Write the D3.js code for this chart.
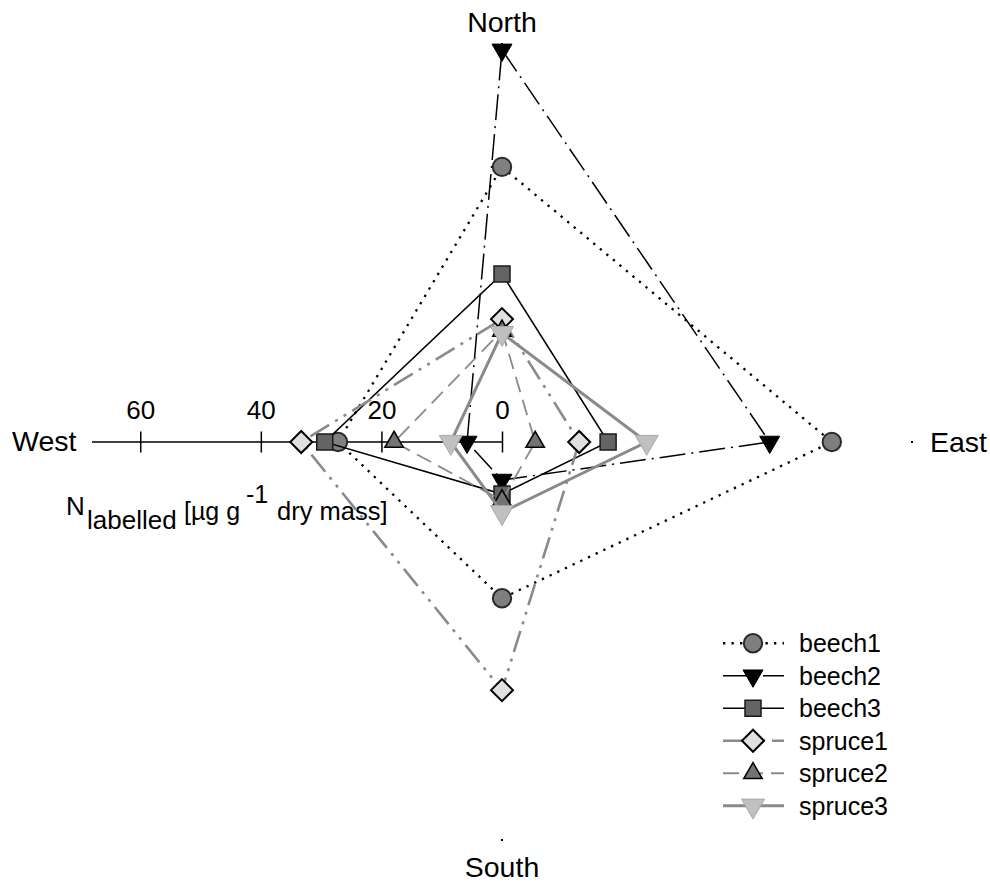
<!DOCTYPE html>
<html>
<head>
<meta charset="utf-8">
<script src="https://cdn.jsdelivr.net/npm/d3@7/dist/d3.min.js"></script>
<style>
  html, body { margin: 0; padding: 0; background: #fff; }
  svg { display: block; font-family: "Liberation Sans", Arial, sans-serif; }
</style>
</head>
<body>
<svg id="chart" width="990" height="885"></svg>
<script>
// Compass directions, clockwise from the top
const directions = ["North", "East", "South", "West"];
const dirVectors = [[0, -1], [1, 0], [0, 1], [-1, 0]];

// Labelled N per direction (North, East, South, West), µg g-1 dry mass
const beech1  = [47.0, 54.7, 26.7, 27.2];
const beech2  = [67.0, 44.4,  6.5,  5.8];
const beech3  = [28.7, 17.6,  8.9, 29.4];
const spruce1 = [21.0, 12.8, 42.4, 33.3];
const spruce2 = [19.0,  5.5, 10.0, 17.9];
const spruce3 = [18.6, 24.0, 12.0,  8.5];

const seriesNames = ["beech1", "beech2", "beech3", "spruce1", "spruce2", "spruce3"];
const axisTicks = [60, 40, 20, 0];
const axisMax = 68;

const seriesData = [beech1, beech2, beech3, spruce1, spruce2, spruce3];

// Drawing styles for each series
const styles = {
  beech1:  { stroke: "#000", width: 2.3, dash: "2.3,6.2", symbol: "circle", size: 9.2, fill: "#7f7f7f", mstroke: "#2a2a2a", mwidth: 2 },
  beech2:  { stroke: "#000", width: 1.5, dash: "26,6,2,6", symbol: "triDown", size: 20, fill: "#000", mstroke: "#000", mwidth: 1 },
  beech3:  { stroke: "#000", width: 1.5, dash: null, symbol: "square", size: 16, fill: "#646464", mstroke: "#1a1a1a", mwidth: 1.5 },
  spruce1: { stroke: "#8a8a8a", width: 2.6, dash: "22,7,3,7,3,7", symbol: "diamond", size: 22, fill: "#e0e0e0", mstroke: "#000", mwidth: 2 },
  spruce2: { stroke: "#8a8a8a", width: 1.8, dash: "16,8", symbol: "triUp", size: 18.5, fill: "#737373", mstroke: "#000", mwidth: 1.5 },
  spruce3: { stroke: "#8a8a8a", width: 3, dash: null, symbol: "triDown", size: 23, fill: "#c0c0c0", mstroke: "#a8a8a8", mwidth: 1 }
};

const svg = d3.select("#chart");
const cx = 502, cy = 442;

// Radial scales: horizontal and vertical spokes
const rX = d3.scaleLinear().domain([0, axisMax]).range([0, 410]);
const rY = d3.scaleLinear().domain([0, axisMax]).range([0, 398]);

function pointAt(i, v) {
  const [dx, dy] = dirVectors[i];
  return [cx + dx * rX(v), cy + dy * rY(v)];
}

// Marker path generator
function markerPath(type, s) {
  const p = d3.path();
  if (type === "square") {
    p.rect(-s / 2, -s / 2, s, s);
  } else if (type === "diamond") {
    const h = s / 2;
    p.moveTo(0, -h); p.lineTo(h, 0); p.lineTo(0, h); p.lineTo(-h, 0); p.closePath();
  } else if (type === "triDown") {
    const h = s * 0.866;
    p.moveTo(-s / 2, -h / 3); p.lineTo(s / 2, -h / 3); p.lineTo(0, 2 * h / 3); p.closePath();
  } else if (type === "triUp") {
    const h = s * 0.866;
    p.moveTo(-s / 2, h / 3); p.lineTo(s / 2, h / 3); p.lineTo(0, -2 * h / 3); p.closePath();
  }
  return p.toString();
}

function drawMarker(g, st, x, y) {
  if (st.symbol === "circle") {
    g.append("circle").attr("cx", x).attr("cy", y).attr("r", st.size)
      .attr("fill", st.fill).attr("stroke", st.mstroke).attr("stroke-width", st.mwidth);
  } else {
    g.append("path").attr("d", markerPath(st.symbol, st.size))
      .attr("transform", `translate(${x},${y})`)
      .attr("fill", st.fill).attr("stroke", st.mstroke).attr("stroke-width", st.mwidth)
      .attr("stroke-linejoin", "miter");
  }
}

// West spoke carries the value axis
const westScale = d3.scaleLinear().domain([0, axisMax]).range([cx, cx - rX(axisMax)]);
const axisG = svg.append("g").attr("transform", `translate(0,${cy})`)
  .call(d3.axisTop(westScale).tickValues(axisTicks).tickSizeInner(10).tickSizeOuter(0).tickFormat(d3.format("d")));
axisG.select(".domain").attr("d", `M${westScale(axisMax)},0H${westScale(0)}`)
  .attr("stroke", "#000").attr("stroke-width", 1.5);
axisG.selectAll(".tick line").attr("y1", -10.5).attr("y2", 10.5)
  .attr("stroke", "#000").attr("stroke-width", 1.5);
axisG.selectAll(".tick text").attr("y", -23).attr("dy", 0)
  .attr("font-size", 26).attr("font-family", "Liberation Sans, Arial, sans-serif").attr("fill", "#000");

// Small marks at the ends of the other spokes
[0, 1, 2].forEach(i => {
  const [x, y] = pointAt(i, axisMax);
  svg.append("rect").attr("x", x - 1).attr("y", y - 1).attr("width", 2).attr("height", 2).attr("fill", "#000");
});

// Direction labels
const dirLabelPos = { North: [502, 32, "middle"], East: [930, 452, "start"], South: [502, 877, "middle"], West: [12, 451, "start"] };
directions.forEach(d => {
  const [x, y, anchor] = dirLabelPos[d];
  svg.append("text").attr("x", x).attr("y", y).attr("text-anchor", anchor)
    .attr("font-size", 28.5).attr("fill", "#000").text(d);
});

// Axis title with sub- and superscript
const title = svg.append("text").attr("fill", "#000");
title.append("tspan").attr("x", 66).attr("y", 515).attr("font-size", 26).text("N");
title.append("tspan").attr("x", 87).attr("y", 529).attr("font-size", 26).text("labelled");
title.append("tspan").attr("x", 184).attr("y", 520).attr("font-size", 25).text("[µg g");
title.append("tspan").attr("x", 246).attr("y", 503).attr("font-size", 25).text("-1");
title.append("tspan").attr("x", 277).attr("y", 520).attr("font-size", 25.5).text("dry mass]");

// Polygons and markers
const line = d3.line().curve(d3.curveLinearClosed);
seriesNames.forEach((name, k) => {
  const st = styles[name];
  const vals = seriesData[k];
  const pts = vals.map((v, i) => pointAt(i, v));
  const g = svg.append("g");
  g.append("path").attr("d", line(pts)).attr("fill", "none")
    .attr("stroke", st.stroke).attr("stroke-width", st.width)
    .attr("stroke-dasharray", st.dash);
  pts.forEach(([x, y]) => drawMarker(g, st, x, y));
});

// Legend
const legendY = d3.scaleBand().domain(seriesNames).range([627, 822]);
seriesNames.forEach(name => {
  const st = styles[name];
  const y = legendY(name) + legendY.bandwidth() / 2;
  const g = svg.append("g");
  g.append("line").attr("x1", 723).attr("x2", 784).attr("y1", y).attr("y2", y)
    .attr("stroke", st.stroke).attr("stroke-width", st.width)
    .attr("stroke-dasharray", st.dash);
  drawMarker(g, st, 753, y);
  g.append("text").attr("x", 799).attr("y", y + 9).attr("font-size", 25).attr("fill", "#000").text(name);
});
</script>
</body>
</html>
